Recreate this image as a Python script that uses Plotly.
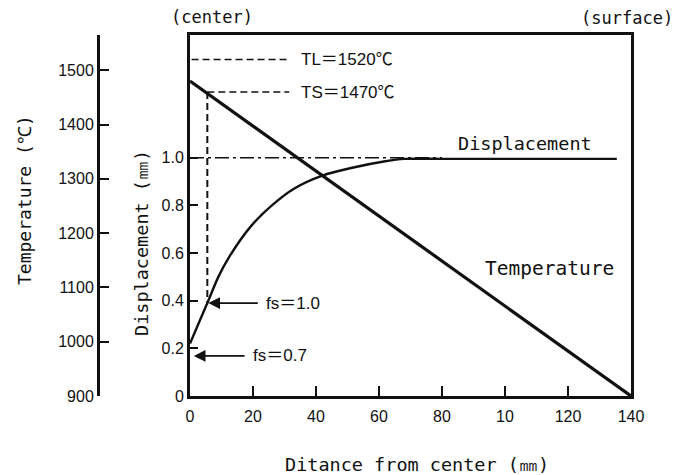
import plotly.graph_objects as go

# ---- data ----
dist_ticks = [0, 20, 40, 60, 80, 100, 120, 140]
dist_ticktext = ["0", "20", "40", "60", "80", "10", "120", "140"]
disp_ticks = [0, 0.2, 0.4, 0.6, 0.8, 1.0]
disp_ticktext = ["0", "0.2", "0.4", "0.6", "0.8", "1.0"]
temp_ticks = [900, 1000, 1100, 1200, 1300, 1400, 1500]

temp_x = [0, 140]
temp_y = [1480, 900]

disp_x = [0, 5.5, 9, 12.5, 19.5, 26, 33, 42, 51.5, 62, 68, 80, 100, 135.5]
disp_y = [0.22, 0.39, 0.50, 0.585, 0.715, 0.80, 0.87, 0.925, 0.958, 0.985, 0.995, 0.995, 0.995, 0.995]

ref_x = [0, 80]
ref_y = [1.0, 1.0]

tl_x = [0.5, 31.5]
tl_y = [1520, 1520]
ts_x = [5.5, 31.5]
ts_y = [1460, 1460]
fs1_x = 5.5
fs1_disp = 0.39
fs07_x = 1.2
fs07_disp = 0.168

X_RANGE = [0, 140]
D_RANGE = [0, 1.515]
T_RANGE = [900, 1565]

# the page body adds an 8px margin, so the figure is drawn 8px to the right/down
OFF = 8
W, H = 680 - OFF, 475 - OFF
L, T = 98 - OFF, 35 - OFF
R = W - (631 - OFF)
B = H - (396 - OFF)
BOX_LEFT = 190 - OFF


def paper(px, py):
    fx, fy = px - OFF, py - OFF
    return (fx - L) / (W - L - R), (H - B - fy) / (H - T - B)


def d_to_t(d):
    return T_RANGE[0] + (d - D_RANGE[0]) / (D_RANGE[1] - D_RANGE[0]) * (T_RANGE[1] - T_RANGE[0])


BLACK = "#111111"
fig = go.Figure()

fig.add_trace(go.Scatter(x=temp_x, y=temp_y, yaxis="y2", mode="lines",
                         line=dict(color=BLACK, width=3.2), cliponaxis=False))
fig.add_trace(go.Scatter(x=disp_x, y=disp_y, mode="lines",
                         line=dict(color=BLACK, width=2.4, shape="spline", smoothing=0.8)))
fig.add_trace(go.Scatter(x=ref_x, y=ref_y, mode="lines",
                         line=dict(color=BLACK, width=1.6, dash="14px,4px,3px,4px")))
fig.add_trace(go.Scatter(x=tl_x, y=tl_y, yaxis="y2", mode="lines",
                         line=dict(color=BLACK, width=1.5, dash="7px,4px")))
fig.add_trace(go.Scatter(x=ts_x, y=ts_y, yaxis="y2", mode="lines",
                         line=dict(color=BLACK, width=1.5, dash="7px,4px")))
fig.add_trace(go.Scatter(x=[fs1_x, fs1_x], y=[ts_y[0], d_to_t(fs1_disp)], yaxis="y2", mode="lines",
                         line=dict(color=BLACK, width=2, dash="7px,4px")))

SANS = "Liberation Sans, Arial, Noto Sans CJK JP, sans-serif"
MONO = "DejaVu Sans Mono, monospace"
tickfont = dict(family=SANS, size=16, color=BLACK)

annotations = []
# arrows
annotations.append(dict(x=fs1_x + 0.3, y=fs1_disp, ax=22, ay=fs1_disp, axref="x", ayref="y",
                        xref="x", yref="y", text="", showarrow=True, arrowhead=2,
                        arrowsize=1.3, arrowwidth=1.8, arrowcolor=BLACK))
annotations.append(dict(x=fs07_x, y=fs07_disp, ax=17.8, ay=fs07_disp, axref="x", ayref="y",
                        xref="x", yref="y", text="", showarrow=True, arrowhead=2,
                        arrowsize=1.3, arrowwidth=1.8, arrowcolor=BLACK))
annotations.append(dict(x=23.5, y=fs1_disp, xref="x", yref="y", text="fs＝1.0",
                        showarrow=False, xanchor="left", yanchor="middle",
                        font=dict(family=SANS, size=17, color=BLACK)))
annotations.append(dict(x=19.4, y=fs07_disp, xref="x", yref="y", text="fs＝0.7",
                        showarrow=False, xanchor="left", yanchor="middle",
                        font=dict(family=SANS, size=17, color=BLACK)))
annotations.append(dict(x=34.5, y=tl_y[0], xref="x", yref="y2", text="TL＝1520℃",
                        showarrow=False, xanchor="left", yanchor="middle",
                        font=dict(family=SANS, size=17, color=BLACK)))
annotations.append(dict(x=34.5, y=ts_y[0], xref="x", yref="y2", text="TS＝1470℃",
                        showarrow=False, xanchor="left", yanchor="middle",
                        font=dict(family=SANS, size=17, color=BLACK)))


def label(text, px, py, size, angle=0):
    x, y = paper(px, py)
    annotations.append(dict(x=x, y=y, xref="paper", yref="paper", text=text, showarrow=False,
                            xanchor="center", yanchor="middle", textangle=angle,
                            font=dict(family=MONO, size=size, color=BLACK)))


label("Displacement", 525, 143, 18.5)
label("Temperature", 549, 268, 19.5)
label("(center)", 212, 17, 17)
label("(surface)", 627, 18, 17)
label("Ditance from center (㎜)", 417, 464, 18.5)
label("Displacement (㎜)", 141, 243, 18.5, -90)
label("Temperature (℃)", 24, 200, 18, -90)

x0_frac = (BOX_LEFT - L) / (W - L - R)

fig.update_layout(
    template="none",
    width=W, height=H,
    margin=dict(l=L, r=R, t=T, b=B, pad=0),
    paper_bgcolor="white", plot_bgcolor="white",
    showlegend=False,
    xaxis=dict(domain=[x0_frac, 1], range=X_RANGE, tickvals=dist_ticks, ticktext=dist_ticktext,
               ticks="inside", ticklen=10, tickwidth=2, tickcolor=BLACK,
               showline=True, linewidth=3, linecolor=BLACK, mirror=True,
               showgrid=False, zeroline=False, tickfont=tickfont, automargin=False,
               ticklabelstandoff=4),
    yaxis=dict(range=D_RANGE, tickvals=disp_ticks, ticktext=disp_ticktext,
               ticks="inside", ticklen=8, tickwidth=1.5, tickcolor=BLACK,
               showline=True, linewidth=3, linecolor=BLACK, mirror=True,
               showgrid=False, zeroline=False, tickfont=tickfont, automargin=False),
    yaxis2=dict(range=T_RANGE, tickvals=temp_ticks, overlaying="y", anchor="free", position=0,
                side="left", ticks="inside", ticklen=9, tickwidth=1.5, tickcolor=BLACK,
                showline=True, linewidth=3, linecolor=BLACK,
                showgrid=False, zeroline=False, tickfont=tickfont, automargin=False),
    annotations=annotations,
)

fig.write_html("out.html")
